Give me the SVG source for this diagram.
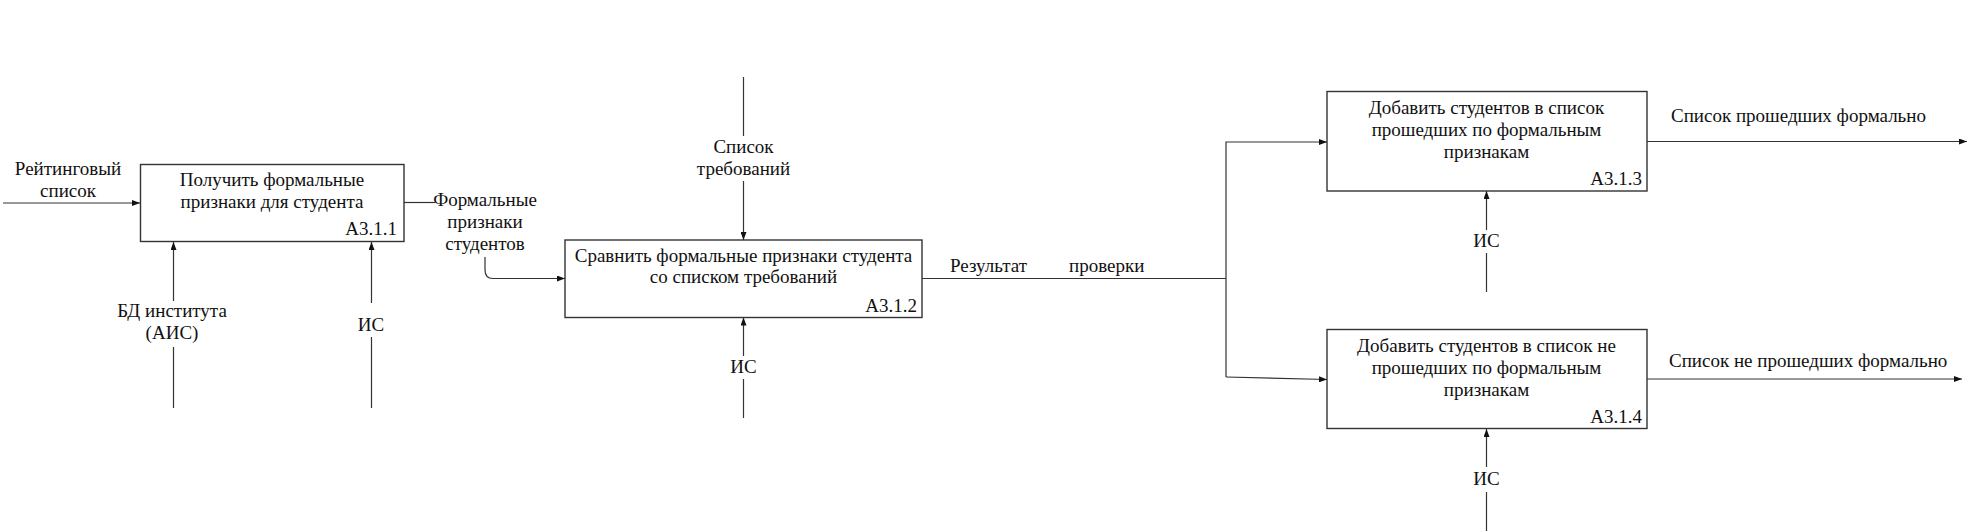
<svg xmlns="http://www.w3.org/2000/svg" width="1971" height="531" viewBox="0 0 1971 531">
<style>
text{font-family:"Liberation Serif","Times New Roman",serif;font-size:19px;fill:#111}
.c{text-anchor:middle}
.r{text-anchor:end}
.box{fill:#fff;stroke:#333;stroke-width:1.4}
.ln{fill:none;stroke:#333;stroke-width:1.2}
</style>
<defs>
<marker id="ah" markerWidth="8" markerHeight="6" refX="8" refY="3" orient="auto" markerUnits="userSpaceOnUse">
<path d="M0,0 L8,3 L0,6 Z" fill="#111"/>
</marker>
</defs>
<rect width="1971" height="531" fill="#fff"/>
<g id="connectors">
<line class="ln" x1="3" y1="203" x2="140" y2="203" marker-end="url(#ah)"/>
<line class="ln" x1="173.5" y1="301" x2="173.5" y2="242" marker-end="url(#ah)"/>
<line class="ln" x1="173.5" y1="347" x2="173.5" y2="408"/>
<line class="ln" x1="371.5" y1="303" x2="371.5" y2="242" marker-end="url(#ah)"/>
<line class="ln" x1="371.5" y1="337" x2="371.5" y2="408"/>
<line class="ln" x1="404" y1="202.5" x2="435" y2="202.5"/>
<path class="ln" d="M485,257 L485,270 Q485,278.5 493,278.5 L565,278.5" marker-end="url(#ah)"/>
<line class="ln" x1="743.5" y1="77" x2="743.5" y2="136"/>
<line class="ln" x1="743.5" y1="181" x2="743.5" y2="240" marker-end="url(#ah)"/>
<line class="ln" x1="743.5" y1="356" x2="743.5" y2="317.5" marker-end="url(#ah)"/>
<line class="ln" x1="743.5" y1="379" x2="743.5" y2="418"/>
<line class="ln" x1="922" y1="278.5" x2="1226" y2="278.5"/>
<path class="ln" d="M1226,377 L1226,142 L1327,142" marker-end="url(#ah)"/>
<path class="ln" d="M1226,377 L1327,379.5" marker-end="url(#ah)"/>
<line class="ln" x1="1486.5" y1="230" x2="1486.5" y2="191" marker-end="url(#ah)"/>
<line class="ln" x1="1486.5" y1="253" x2="1486.5" y2="292"/>
<line class="ln" x1="1486.5" y1="467" x2="1486.5" y2="429" marker-end="url(#ah)"/>
<line class="ln" x1="1486.5" y1="492" x2="1486.5" y2="531"/>
<line class="ln" x1="1647" y1="141.5" x2="1967" y2="141.5" marker-end="url(#ah)"/>
<line class="ln" x1="1647" y1="379" x2="1962" y2="379" marker-end="url(#ah)"/>
</g>
<g id="labels">
<text class="c" x="68" y="175">Рейтинговый</text>
<text class="c" x="68" y="197">список</text>
<text class="c" x="172" y="317">БД института</text>
<text class="c" x="172" y="339">(АИС)</text>
<text class="c" x="371" y="331">ИС</text>
<text class="c" x="485" y="206">Формальные</text>
<text class="c" x="485" y="228">признаки</text>
<text class="c" x="485" y="250">студентов</text>
<text class="c" x="743.5" y="153">Список</text>
<text class="c" x="743.5" y="175">требований</text>
<text class="c" x="743.5" y="373">ИС</text>
<text x="950" y="272">Результат</text>
<text x="1069" y="272">проверки</text>
<text class="c" x="1486.5" y="247">ИС</text>
<text class="c" x="1486.5" y="485">ИС</text>
<text x="1671" y="122">Список прошедших формально</text>
<text x="1669" y="367">Список не прошедших формально</text>
</g>
<g id="A3.1.1">
<rect class="box" x="140.5" y="164.5" width="263.5" height="77"/>
<text class="c" x="272" y="186">Получить формальные</text>
<text class="c" x="272" y="208">признаки для студента</text>
<text class="r" x="397" y="235">А3.1.1</text>
</g>
<g id="A3.1.2">
<rect class="box" x="565" y="240" width="357" height="77.5"/>
<text class="c" x="743.5" y="262">Сравнить формальные признаки студента</text>
<text class="c" x="743.5" y="283">со списком требований</text>
<text class="r" x="917" y="312">А3.1.2</text>
</g>
<g id="A3.1.3">
<rect class="box" x="1327" y="91.5" width="320" height="99.5"/>
<text class="c" x="1486.5" y="114">Добавить студентов в список</text>
<text class="c" x="1486.5" y="136">прошедших по формальным</text>
<text class="c" x="1486.5" y="158">признакам</text>
<text class="r" x="1642" y="185">А3.1.3</text>
</g>
<g id="A3.1.4">
<rect class="box" x="1327" y="329.5" width="320" height="99"/>
<text class="c" x="1486.5" y="352">Добавить студентов в список не</text>
<text class="c" x="1486.5" y="374">прошедших по формальным</text>
<text class="c" x="1486.5" y="396">признакам</text>
<text class="r" x="1642" y="423">А3.1.4</text>
</g>
</svg>
